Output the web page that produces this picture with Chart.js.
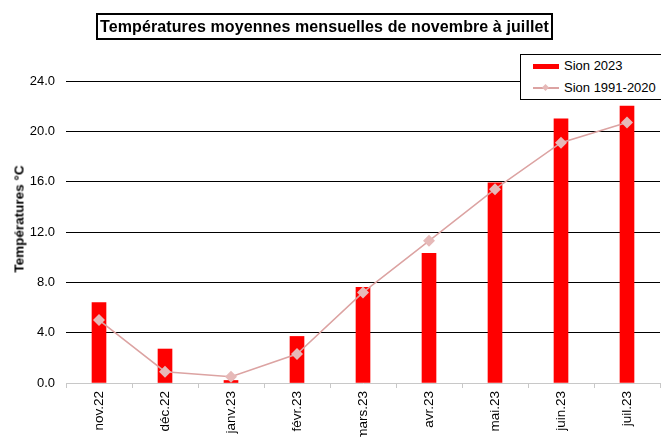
<!DOCTYPE html>
<html>
<head>
<meta charset="utf-8">
<script src="https://cdn.jsdelivr.net/npm/chart.js@4.4.1/dist/chart.umd.min.js"></script>
<style>
  body { margin: 0; background: #fff; overflow: hidden; font-family: "Liberation Sans", Arial, sans-serif; }
  #wrap { position: relative; width: 661px; height: 437px; overflow: hidden; }
  #c { position: absolute; left: 0; top: 0; }
  #titre {
    position: absolute; left: 96px; top: 13px; width: 453px; height: 23px;
    border: 2px solid #000; font-weight: bold; font-size: 16px; line-height: 23px;
    text-align: center; color: #000; white-space: nowrap; letter-spacing: 0.1px;
  }
  #ytitre {
    position: absolute; left: 19px; top: 219px; font-weight: bold; font-size: 13.5px;
    transform: translate(-50%, -50%) rotate(-90deg); white-space: nowrap; color: #000;
  }
  #legende {
    position: absolute; left: 520px; top: 54px; width: 150px; height: 44px;
    border: 1px solid #000; background: #fff; font-size: 13px; color: #000;
  }
  .item { position: absolute; left: 12px; height: 16px; line-height: 16px; }
  .item span { position: absolute; left: 31px; white-space: nowrap; }
  .sw { position: absolute; left: 0; width: 26px; }
</style>
</head>
<body>
<div id="wrap">
  <canvas id="c" width="666" height="437"></canvas>
  <div id="titre">Températures moyennes mensuelles de novembre à juillet</div>
  <div id="ytitre">Températures °C</div>
  <div id="legende">
    <div class="item" style="top:3px"><div class="sw" style="top:6px;height:5px;background:#ff0000"></div><span>Sion 2023</span></div>
    <div class="item" style="top:25px"><div class="sw" style="top:7px;height:2px;background:#dca3a2"></div>
      <div style="position:absolute;left:10px;top:5px;width:5px;height:5px;background:#e6b9b8;transform:rotate(45deg)"></div><span>Sion 1991-2020</span></div>
  </div>
</div>
<script>
// mois (axe x)
const mois = ["nov.22", "déc.22", "janv.23", "févr.23", "mars.23", "avr.23", "mai.23", "juin.23", "juil.23"];
// températures moyennes 2023
const sion2023 = [6.4, 2.7, 0.2, 3.7, 7.6, 10.3, 15.9, 21.0, 22.0];
// normes 1991-2020
const sionNorme = [5.0, 0.9, 0.5, 2.3, 7.2, 11.3, 15.4, 19.1, 20.7];
// graduations de l'axe y
const yMin = 0, yMax = 24, yPas = 4;

const ctx = document.getElementById("c");
new Chart(ctx, {
  data: {
    labels: mois,
    datasets: [
      {
        type: "line",
        label: "Sion 1991-2020",
        data: sionNorme,
        order: 0,
        borderColor: "#dca3a2",
        borderWidth: 1.5,
        pointStyle: "rectRot",
        pointRadius: 6,
        pointBorderWidth: 0,
        pointBackgroundColor: "#e6b9b8",
        tension: 0
      },
      {
        type: "bar",
        label: "Sion 2023",
        data: sion2023,
        order: 1,
        backgroundColor: "#ff0000",
        barThickness: 14
      }
    ]
  },
  options: {
    responsive: false,
    animation: false,
    layout: { padding: { top: 81, right: 0, bottom: 0, left: 0 } },
    plugins: { legend: { display: false }, tooltip: { enabled: false } },
    scales: {
      x: {
        offset: true,
        afterFit: (s) => { s.height = 54; },
        border: { display: true, color: "#c8c8c8", width: 1 },
        grid: { offset: true, drawOnChartArea: false, drawTicks: true, tickLength: 5, color: "#c8c8c8" },
        ticks: { minRotation: 90, maxRotation: 90, padding: 3, color: "#000", font: { family: "Liberation Sans", size: 13.5 } }
      },
      y: {
        min: yMin, max: yMax,
        afterFit: (s) => { s.width = 66; },
        border: { display: false },
        grid: { drawTicks: false, color: (c) => c.tick.value === 0 ? "rgba(0,0,0,0)" : "#000", lineWidth: 1 },
        ticks: { stepSize: yPas, padding: 11, color: "#000", font: { family: "Liberation Sans", size: 13 },
          callback: (v) => v.toFixed(1) }
      }
    }
  }
});
</script>
</body>
</html>
